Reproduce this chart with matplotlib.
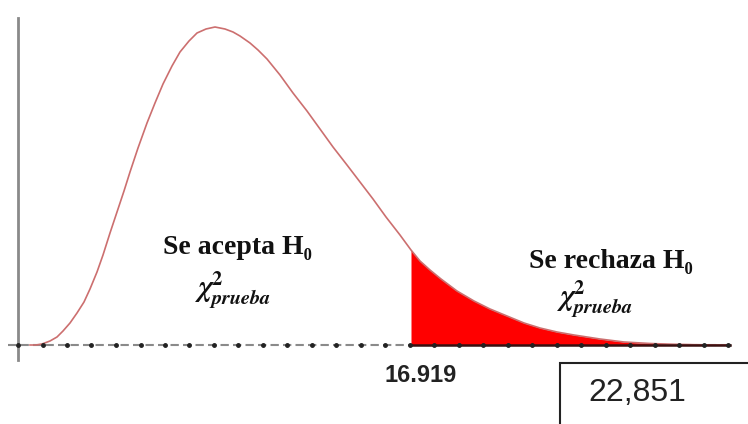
import matplotlib.pyplot as plt
import numpy as np
from matplotlib.patches import Rectangle

plt.rcParams['mathtext.fontset'] = 'stix'

# curva chi-cuadrado (x: distancia al eje vertical, y: altura sobre el eje)
x_curva = [12, 18, 24, 32, 39, 45, 52, 59, 66, 72, 79, 85, 92, 99, 106, 112, 120, 129,
           137, 145, 154, 162, 171, 179, 188, 197, 207, 215, 222, 232, 240, 249, 262,
           275, 289, 302, 315, 329, 342, 355, 368, 382, 393, 402, 412, 423, 439, 456,
           472, 489, 506, 522, 539, 556, 582, 606, 632, 656, 682, 712]
y_curva = [0, 0, 1, 4, 8, 14, 22, 32, 43, 56, 73, 90, 112, 133, 154, 173, 197, 222,
           242, 261, 279, 293, 304, 312, 316, 318, 316, 313, 309, 302, 295, 286, 270,
           252, 234, 216, 198, 180, 163, 146, 128, 110, 95, 84, 75, 66, 54, 44,
           36, 29, 22, 17, 13, 10, 6, 3, 1.5, 0.7, 0.2, 0]
x_critico = 393
etiqueta_critico = "16.919"
valor_prueba = "22,851"
ticks_x = [0, 24.5, 49, 73.5, 98, 122.5, 147, 171.5, 196, 220.5, 245, 269.5, 294,
           318.5, 343, 367.5, 392, 416.5, 441, 465.5, 490, 514.5, 539, 563.5, 588,
           612.5, 637, 661.5, 686, 710.5]

fig = plt.figure(figsize=(7.48, 4.24), dpi=100)
ax = fig.add_axes([0, 0, 1, 1])
ax.set_xlim(-18, 730)
ax.set_ylim(-79, 345)
ax.axis('off')

x_curva = np.array(x_curva, dtype=float)
y_curva = np.array(y_curva, dtype=float)

# region de rechazo
mask = x_curva >= x_critico
ax.fill_between(x_curva[mask], 0, y_curva[mask], color='#ff0000', linewidth=0, zorder=2)
ax.plot(x_curva, y_curva, color='#cc6f6f', linewidth=1.2, zorder=3)

# ejes
ax.plot([-10, 712], [0, 0], color='#8a8a8a', linewidth=1.5, linestyle=(0, (4, 2)), zorder=1)
ax.plot(ticks_x, np.zeros(len(ticks_x)), 'o', color='#222222', markersize=2.5, zorder=4)
ax.plot([x_critico, 712], [0, 0], color='#3a1010', linewidth=1.8, zorder=3)
ax.plot([0, 0], [-15, 327], color='#8a8a8a', linewidth=2, zorder=1)

serif = ['Liberation Serif', 'DejaVu Serif']
ax.text(219, 98, "Se acepta H₀", family=serif, fontweight='bold', fontsize=20,
        ha='center', va='center', color='#111111')
ax.text(215, 55, r'$\mathbfit{\chi}^{\mathbf{2}}_{\mathbfit{prueba}}$', fontsize=21,
        ha='center', va='center', color='#111111')
ax.text(593, 83, "Se rechaza H₀", family=serif, fontweight='bold', fontsize=20,
        ha='center', va='center', color='#111111')
ax.text(577, 46, r'$\mathbfit{\chi}^{\mathbf{2}}_{\mathbfit{prueba}}$', fontsize=21,
        ha='center', va='center', color='#111111')

ax.text(403, -31, etiqueta_critico, family='Liberation Sans', fontweight='bold', fontsize=17,
        ha='center', va='center', color='#222222')

ax.add_patch(Rectangle((542, -120), 300, 102, facecolor='none', edgecolor='#222222',
                       linewidth=1.5, clip_on=False, zorder=5))
ax.text(619, -48, valor_prueba, family='Liberation Sans', fontsize=23,
        ha='center', va='center', color='#222222')

fig.savefig('out.png', dpi=100)
